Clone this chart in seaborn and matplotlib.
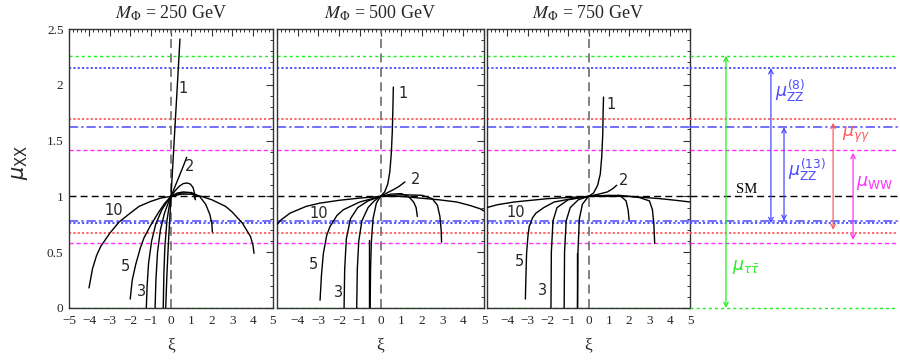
import numpy as np
import pandas as pd
import seaborn as sns
import matplotlib.pyplot as plt
from matplotlib.ticker import MultipleLocator, FixedLocator, FuncFormatter

# ---- data ----
panel_titles = ["250", "500", "750"]

# curves (xi, mu) for M = 250 GeV
p250_c1 = [(-0.26, 0.0), (-0.2, 0.3), (-0.13, 0.57), (-0.06, 0.8), (0.0, 1.0),
           (0.1, 1.32), (0.2, 1.64), (0.3, 1.96), (0.44, 2.41)]
p250_c2 = [(-0.38, 0.0), (-0.35, 0.3), (-0.3, 0.55), (-0.2, 0.78), (-0.1, 0.9), (0.0, 1.0),
           (0.2, 1.09), (0.4, 1.18), (0.6, 1.27), (0.77, 1.35)]
p250_c3 = [(-0.78, 0.0), (-0.74, 0.25), (-0.66, 0.5), (-0.52, 0.7), (-0.32, 0.85), (-0.12, 0.95),
           (0.0, 1.0), (0.2, 1.05), (0.4, 1.09), (0.6, 1.115), (0.8, 1.12), (0.95, 1.11),
           (1.08, 1.08), (1.15, 1.03), (1.18, 0.98)]
p250_c4 = [(-1.21, 0.0), (-1.17, 0.2), (-1.1, 0.4), (-0.95, 0.6), (-0.75, 0.75), (-0.45, 0.88),
           (-0.2, 0.95), (0.0, 1.0), (0.3, 1.03), (0.6, 1.04), (0.9, 1.035), (1.1, 1.02), (1.2, 0.97)]
p250_c5 = [(-2.0, 0.08), (-1.9, 0.25), (-1.73, 0.39), (-1.5, 0.54), (-1.32, 0.63), (-1.0, 0.74),
           (-0.6, 0.86), (-0.3, 0.94), (0.0, 1.0), (0.5, 1.03), (1.0, 1.035), (1.4, 1.0),
           (1.7, 0.93), (1.9, 0.84), (2.0, 0.76), (2.03, 0.68)]
p250_c10 = [(-4.02, 0.18), (-3.85, 0.35), (-3.65, 0.47), (-3.45, 0.55), (-3.0, 0.67),
            (-2.55, 0.77), (-2.0, 0.85), (-1.57, 0.91), (-1.0, 0.955), (-0.5, 0.985), (0.0, 1.0),
            (0.5, 1.02), (1.0, 1.02), (1.5, 1.0), (2.0, 0.97), (2.68, 0.91), (3.0, 0.86),
            (3.5, 0.76), (3.9, 0.64), (4.02, 0.56), (4.07, 0.49)]

# curves for M = 500 GeV
p500_c1 = [(-0.5, 0.0), (-0.48, 0.35), (-0.44, 0.6), (-0.36, 0.8), (-0.2, 0.94), (0.0, 1.0),
           (0.2, 1.04), (0.35, 1.11), (0.45, 1.22), (0.52, 1.38), (0.57, 1.58), (0.6, 1.8),
           (0.62, 1.98)]
p500_c1b = [(-0.57, 0.0), (-0.57, 0.61)]
p500_c2 = [(-1.15, 0.0), (-1.12, 0.35), (-1.05, 0.6), (-0.9, 0.78), (-0.6, 0.9), (-0.3, 0.96),
           (0.0, 1.0), (0.3, 1.03), (0.62, 1.06), (0.9, 1.09), (1.18, 1.13)]
p500_c3 = [(-1.76, 0.0), (-1.73, 0.35), (-1.65, 0.62), (-1.45, 0.8), (-1.1, 0.9), (-0.6, 0.96),
           (0.0, 1.0), (0.5, 1.02), (1.0, 1.025), (1.35, 1.0), (1.6, 0.95), (1.72, 0.9),
           (1.78, 0.82)]
p500_c5 = [(-2.92, 0.07), (-2.85, 0.3), (-2.76, 0.49), (-2.6, 0.65), (-2.44, 0.73), (-2.1, 0.83),
           (-1.8, 0.88), (-1.0, 0.95), (0.0, 1.0), (1.0, 1.015), (2.0, 1.01), (2.5, 0.98),
           (2.75, 0.92), (2.87, 0.82), (2.93, 0.7), (2.95, 0.59)]
p500_c10 = [(-5.0, 0.75), (-4.8, 0.79), (-4.37, 0.85), (-3.6, 0.91), (-2.92, 0.94),
            (-2.0, 0.965), (-1.0, 0.985), (0.0, 1.0), (1.0, 1.0), (1.9, 0.985), (2.8, 0.97),
            (3.68, 0.95), (4.3, 0.92), (4.8, 0.89), (5.0, 0.87)]

# curves for M = 750 GeV
p750_c1 = [(-0.54, 0.0), (-0.52, 0.5), (-0.45, 0.8), (-0.3, 0.93), (0.0, 1.0), (0.25, 1.03),
           (0.45, 1.1), (0.58, 1.2), (0.65, 1.35), (0.7, 1.55), (0.72, 1.75), (0.74, 1.89)]
p750_c1b = [(-0.56, 0.0), (-0.56, 0.49)]
p750_c2 = [(-1.2, 0.0), (-1.18, 0.5), (-1.1, 0.78), (-0.9, 0.9), (-0.5, 0.97), (0.0, 1.0),
           (0.5, 1.02), (0.93, 1.04), (1.2, 1.07), (1.39, 1.1)]
p750_c3 = [(-1.85, 0.0), (-1.83, 0.5), (-1.75, 0.78), (-1.55, 0.9), (-1.0, 0.97), (0.0, 1.0),
           (1.0, 1.01), (1.6, 1.0), (1.85, 0.96), (1.95, 0.88), (2.0, 0.79)]
p750_c5 = [(-3.11, 0.08), (-3.08, 0.3), (-3.05, 0.49), (-2.98, 0.65), (-2.92, 0.73),
           (-2.75, 0.81), (-2.59, 0.85), (-2.2, 0.9), (-1.69, 0.95), (-0.8, 0.98), (0.0, 1.0),
           (1.5, 1.01), (2.5, 0.99), (3.0, 0.96), (3.15, 0.88), (3.22, 0.75), (3.26, 0.58)]
p750_c10 = [(-5.0, 0.9), (-4.5, 0.925), (-3.66, 0.95), (-2.0, 0.98), (0.0, 1.0), (2.08, 1.0),
            (3.5, 0.98), (4.3, 0.965), (5.0, 0.95)]

panel_curves = [
    {"1": p250_c1, "2": p250_c2, "3": p250_c3, "4": p250_c4, "5": p250_c5, "10": p250_c10},
    {"1": p500_c1, "1b": p500_c1b, "2": p500_c2, "3": p500_c3, "5": p500_c5, "10": p500_c10},
    {"1": p750_c1, "1b": p750_c1b, "2": p750_c2, "3": p750_c3, "5": p750_c5, "10": p750_c10},
]

# curve labels (text, xi, mu) per panel
labels_250 = [("1", 0.6, 1.97), ("2", 0.9, 1.27), ("10", -2.83, 0.87), ("5", -2.22, 0.37), ("3", -1.44, 0.15)]
labels_500 = [("1", 1.07, 1.92), ("2", 1.71, 1.15), ("10", -3.0, 0.85), ("5", -3.24, 0.39), ("3", -2.04, 0.14)]
labels_750 = [("1", 1.1, 1.82), ("2", 1.75, 1.14), ("10", -3.57, 0.86), ("5", -3.41, 0.42), ("3", -2.26, 0.16)]
panel_labels = [labels_250, labels_500, labels_750]

# measured signal strength bands
mu_tautau = (0.0, 2.26)
mu_zz8 = (0.76, 2.15)
mu_zz13 = (0.78, 1.62)
mu_gamgam = (0.67, 1.69)
mu_ww = (0.58, 1.42)
mu_sm = 1.0

# ---- style ----
sns.set_style("white")
plt.rcParams["font.family"] = ["Liberation Serif", "DejaVu Serif"]
plt.rcParams["mathtext.fontset"] = "stix"

GREEN = "#22ee22"
BLUE = "#4a4aff"
RED = "#ff5a5a"
MAG = "#ff30ff"

band_styles = [
    (mu_tautau, dict(color=GREEN, lw=1.0, dashes=(2.2, 2.2))),
    (mu_zz8, dict(color=BLUE, lw=1.3, dashes=(1.2, 1.2))),
    (mu_zz13, dict(color=BLUE, lw=1.1, dashes=(6, 2, 1.5, 2))),
    (mu_gamgam, dict(color=RED, lw=1.3, dashes=(1.2, 1.2))),
    (mu_ww, dict(color=MAG, lw=1.0, dashes=(3, 2))),
]

fig = plt.figure(figsize=(9, 3.6), dpi=100)

bottom = 52 / 360
height = 279 / 360
lefts = [69, 277, 487]
widths = [204, 207, 203]


def draw_bands(ax, clip=True):
    for (lo, hi), st in band_styles:
        ax.axhline(lo, zorder=1, clip_on=clip, **st)
        ax.axhline(hi, zorder=1, clip_on=clip, **st)
    ax.axhline(mu_sm, color="black", lw=1.0, dashes=(5, 3), zorder=1, clip_on=clip)


for i in range(3):
    ax = fig.add_axes([lefts[i] / 900, bottom, widths[i] / 900, height])
    draw_bands(ax)
    ax.axvline(0, color="#777777", lw=1.3, dashes=(5, 3), zorder=1)

    rows = []
    for name, pts in panel_curves[i].items():
        for x, y in pts:
            rows.append({"curve": name, "xi": x, "mu": y})
    df = pd.DataFrame(rows)
    sns.lineplot(data=df, x="xi", y="mu", units="curve", estimator=None, sort=False,
                 color="black", lw=1.0, ax=ax, legend=False, zorder=3)

    for txt, x, y in panel_labels[i]:
        ax.text(x, y, txt, fontsize=10.5, family="DejaVu Sans", ha="center", va="center")

    ax.set_xlim(-5, 5)
    ax.set_ylim(0, 2.5)
    ax.xaxis.set_minor_locator(MultipleLocator(0.2))
    ax.yaxis.set_minor_locator(MultipleLocator(0.1))
    ax.xaxis.set_major_locator(FixedLocator(range(-5, 6)))
    ax.yaxis.set_major_locator(MultipleLocator(0.5))
    ax.xaxis.set_major_formatter(FuncFormatter(
        lambda v, p, i=i: "" if (i > 0 and v < -4.5) else f"{v:g}".replace("-", "\u2212")))
    ax.yaxis.set_major_formatter(FuncFormatter(lambda v, p: f"{v:g}"))
    ax.tick_params(which="both", direction="in", top=True, right=True,
                   labelsize=9.5, color="#333333")
    ax.tick_params(axis="x", pad=5)
    ax.tick_params(axis="y", pad=4)
    ax.tick_params(which="major", length=5, width=0.8)
    ax.tick_params(which="minor", length=2.5, width=0.7)
    if i > 0:
        ax.tick_params(labelleft=False)
    for sp in ax.spines.values():
        sp.set_linewidth(1.0)
        sp.set_color("#333333")
    ax.set_xlabel("")
    ax.set_ylabel("")
    ax.patch.set_alpha(0)
    fig.text((lefts[i] + widths[i] / 2) / 900, 1 - 345 / 360, "\u03be", fontsize=12.5,
             ha="center", va="center")
    fig.text((lefts[i] + widths[i] / 2) / 900, 1 - 13 / 360,
             r"$M_{\Phi}$" + " = " + panel_titles[i] + " GeV",
             fontsize=13, ha="center", va="center")

# right-hand summary of measurements
axr = fig.add_axes([690 / 900, bottom, 208 / 900, height])
draw_bands(axr, clip=False)
axr.set_xlim(0, 1)
axr.set_ylim(0, 2.5)
axr.axis("off")


def band_arrow(x, lo, hi, color):
    axr.annotate("", xy=(x, hi), xytext=(x, lo),
                 arrowprops=dict(arrowstyle="<->", color=color, lw=0.9,
                                 shrinkA=0, shrinkB=0, mutation_scale=8))


band_arrow(0.173, mu_tautau[0], mu_tautau[1], GREEN)
band_arrow(0.389, mu_zz8[0], mu_zz8[1], BLUE)
band_arrow(0.452, mu_zz13[0], mu_zz13[1], BLUE)
band_arrow(0.688, 0.70, 1.66, RED)
band_arrow(0.784, 0.61, 1.39, MAG)

mfont = dict(math_fontfamily="dejavusans", fontsize=12.5)
axr.text(0.2, 0.37, r"$\mu_{\tau\bar{\tau}}$", color=GREEN, ha="left", va="center", **mfont)
axr.text(0.41, 1.95, r"$\mu_{\mathrm{ZZ}}^{(8)}$", color=BLUE, ha="left", va="center", **mfont)
axr.text(0.47, 1.24, r"$\mu_{\mathrm{ZZ}}^{(13)}$", color=BLUE, ha="left", va="center", **mfont)
axr.text(0.73, 1.55, r"$\mu_{\gamma\gamma}$", color=RED, ha="left", va="center", **mfont)
axr.text(0.8, 1.12, r"$\mu_{\mathrm{WW}}$", color=MAG, ha="left", va="center", **mfont)
axr.text(0.27, 1.065, "SM", color="black", fontsize=10.5, ha="center", va="center")

fig.text(0.022, 0.55, r"$\mu_{\mathrm{XX}}$", rotation=90, ha="center", va="center",
         math_fontfamily="dejavusans", fontsize=15)

fig.savefig("out.png", dpi=100)
